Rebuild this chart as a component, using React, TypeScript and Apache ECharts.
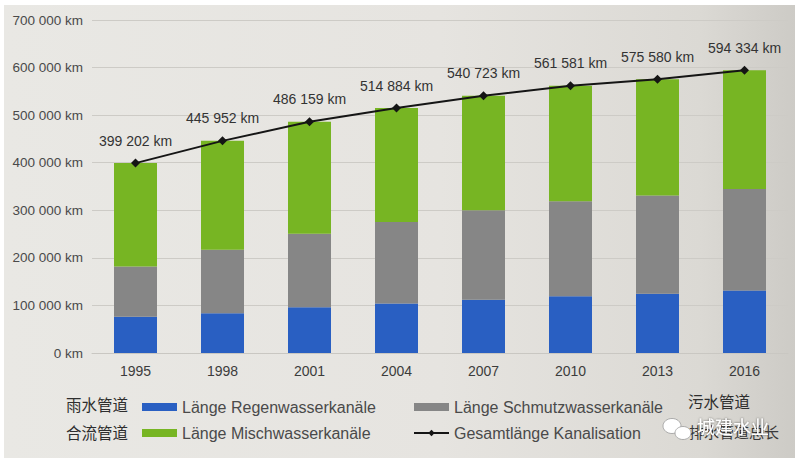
import React, { useEffect, useRef } from "react";
import * as echarts from "echarts";

const years = ["1995", "1998", "2001", "2004", "2007", "2010", "2013", "2016"];
const regen = [76000, 83500, 96000, 104000, 112000, 119500, 124500, 131500];
const schmutz = [106000, 133500, 154500, 171500, 188000, 199500, 206500, 213500];
const misch = [217202, 228952, 235659, 239384, 240723, 242581, 244580, 249334];
const gesamt = [399202, 445952, 486159, 514884, 540723, 561581, 575580, 594334];

const yMin = 0;
const yMax = 700000;
const yStep = 100000;

const fmt = (v: number) => String(Math.round(v)).replace(/\B(?=(\d{3})+(?!\d))/g, " ") + " km";

const FONT = "'Liberation Sans', Arial, sans-serif";
const CJK = "'Noto Sans CJK SC', sans-serif";

export default function App() {
  const ref = useRef<HTMLDivElement>(null);

  useEffect(() => {
    document.body.style.margin = "0";
    const chart = echarts.init(ref.current!, undefined, { renderer: "svg" });
    chart.setOption({
      animation: false,
      grid: { left: 92, right: 12, top: 20, bottom: 113, containLabel: false },
      xAxis: {
        type: "category",
        data: years,
        axisLine: { show: true, lineStyle: { color: "#c9c7c2", width: 1 } },
        axisTick: { show: false },
        axisLabel: { color: "#3c3c3c", fontSize: 14, fontFamily: FONT, margin: 11 },
      },
      yAxis: {
        type: "value",
        min: yMin,
        max: yMax,
        interval: yStep,
        axisLine: { show: false },
        axisTick: { show: false },
        splitLine: { lineStyle: { color: "#cdcbc6", width: 1 } },
        axisLabel: {
          color: "#4a4a4a",
          fontSize: 13.5,
          fontFamily: FONT,
          margin: 9,
          formatter: (v: number) => fmt(v),
        },
      },
      legend: [
        {
          left: 137,
          top: 394,
          orient: "vertical",
          itemWidth: 35,
          itemHeight: 8,
          itemGap: 10,
          textStyle: { color: "#4a4a4a", fontSize: 16, fontFamily: FONT },
          data: [
            { name: "Länge Regenwasserkanäle", icon: "rect" },
            { name: "Länge Mischwasserkanäle", icon: "rect" },
          ],
        },
        {
          left: 408,
          top: 394,
          orient: "vertical",
          itemWidth: 35,
          itemHeight: 8,
          itemGap: 10,
          textStyle: { color: "#4a4a4a", fontSize: 16, fontFamily: FONT },
          data: [
            { name: "Länge Schmutzwasserkanäle", icon: "rect" },
            { name: "Gesamtlänge Kanalisation" },
          ],
        },
      ],
      series: [
        {
          name: "Länge Regenwasserkanäle",
          type: "bar",
          stack: "k",
          barWidth: 43,
          itemStyle: { color: "#295fc2" },
          data: regen,
        },
        {
          name: "Länge Schmutzwasserkanäle",
          type: "bar",
          stack: "k",
          barWidth: 43,
          itemStyle: { color: "#868686" },
          data: schmutz,
        },
        {
          name: "Länge Mischwasserkanäle",
          type: "bar",
          stack: "k",
          barWidth: 43,
          itemStyle: { color: "#77b523" },
          data: misch,
        },
        {
          name: "Gesamtlänge Kanalisation",
          type: "line",
          data: gesamt,
          symbol: "diamond",
          symbolSize: 9,
          z: 5,
          lineStyle: { color: "#151515", width: 2 },
          itemStyle: { color: "#151515" },
          label: {
            show: true,
            position: "top",
            distance: 11,
            color: "#333333",
            fontSize: 14,
            fontFamily: FONT,
            formatter: (p: any) => fmt(p.value),
          },
        },
      ],
      graphic: [
        {
          type: "text",
          right: 800 - 128,
          top: 396,
          style: { text: "雨水管道", fill: "#2e2e2e", font: `15.5px ${CJK}` },
        },
        {
          type: "text",
          right: 800 - 128,
          top: 424,
          style: { text: "合流管道", fill: "#2e2e2e", font: `15.5px ${CJK}` },
        },
        {
          type: "text",
          left: 688,
          top: 393,
          style: { text: "污水管道", fill: "#2e2e2e", font: `15.5px ${CJK}` },
        },
        {
          type: "text",
          left: 689,
          top: 424,
          style: { text: "排水管道总长", fill: "#3a3a3a", font: `15px ${CJK}` },
        },
        {
          type: "ellipse",
          shape: { cx: 672, cy: 426, rx: 9, ry: 7.5 },
          style: { fill: "#ffffff", stroke: "#9a9a9a", lineWidth: 0.8 },
        },
        {
          type: "ellipse",
          shape: { cx: 683, cy: 433, rx: 8, ry: 6.5 },
          style: { fill: "#ffffff", stroke: "#9a9a9a", lineWidth: 0.8 },
        },
        {
          type: "text",
          left: 697,
          top: 417,
          style: {
            text: "城建水业",
            fill: "#ffffff",
            font: `18px ${CJK}`,
            textShadowColor: "rgba(0,0,0,0.6)",
            textShadowBlur: 2,
          },
        },
      ],
    });
    return () => chart.dispose();
  }, []);

  return (
    <div style={{ position: "absolute", left: 0, top: 0, width: 800, height: 466, background: "#ffffff" }}>
      <div
        style={{
          position: "absolute",
          left: 4,
          top: 5,
          width: 791,
          height: 453,
          background: "linear-gradient(90deg, #e9e8e4 0%, #e6e4e0 55%, #dbd9d4 88%, #cdcbc6 100%)",
        }}
      />
      <div ref={ref} style={{ position: "absolute", left: 0, top: 0, width: 800, height: 466 }} />
    </div>
  );
}
